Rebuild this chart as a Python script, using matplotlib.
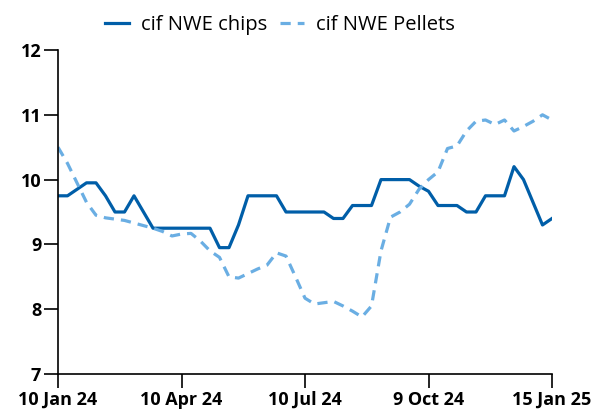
import matplotlib
matplotlib.use("Agg")
import matplotlib.pyplot as plt
import numpy as np

plt.rcParams['font.family'] = ['Open Sans', 'DejaVu Sans']

tick_labels = ["10 Jan 24", "10 Apr 24", "10 Jul 24", "9 Oct 24", "15 Jan 25"]
tick_positions = [0, 13, 26, 39, 52]

chips = [9.75, 9.75, 9.85, 9.95, 9.95, 9.75, 9.5, 9.5, 9.75, 9.5,
         9.25, 9.25, 9.25, 9.25, 9.25, 9.25, 9.25, 8.95, 8.95, 9.3,
         9.75, 9.75, 9.75, 9.75, 9.5, 9.5, 9.5, 9.5, 9.5, 9.4,
         9.4, 9.6, 9.6, 9.6, 10.0, 10.0, 10.0, 10.0, 9.9, 9.82,
         9.6, 9.6, 9.6, 9.5, 9.5, 9.75, 9.75, 9.75, 10.2, 10.0,
         9.65, 9.3, 9.4]

pellets = [10.5, 10.25, 9.95, 9.65, 9.45, 9.41, 9.39, 9.37, 9.33, 9.29,
           9.25, 9.2, 9.13, 9.16, 9.17, 9.05, 8.9, 8.8, 8.5, 8.48,
           8.55, 8.62, 8.68, 8.87, 8.82, 8.5, 8.17, 8.08, 8.1, 8.12,
           8.05, 7.97, 7.88, 8.05, 8.9, 9.42, 9.5, 9.62, 9.85, 10.0,
           10.12, 10.48, 10.52, 10.75, 10.9, 10.92, 10.85, 10.92, 10.75, 10.82,
           10.9, 11.0, 10.92]

fig = plt.figure(figsize=(6.03, 4.15), dpi=100)
ax = fig.add_axes([58/603, 41/415, 494/603, 324/415])

x = np.arange(len(chips))
ax.plot(x, chips, color='#005EA8', lw=2.3, label='cif NWE chips')
ax.plot(x, pellets, color='#6AAEE3', lw=2.3, ls=(0, (3.2, 2.2)), label='cif NWE Pellets')

ax.set_xlim(0, 52)
ax.set_ylim(7, 12)
ax.set_yticks([7, 8, 9, 10, 11, 12])
ax.set_xticks(tick_positions)
ax.set_xticklabels(tick_labels)
for s in ['top', 'right']:
    ax.spines[s].set_visible(False)
for s in ['left', 'bottom']:
    ax.spines[s].set_linewidth(1.2)
ax.tick_params(axis='both', length=10, width=1.2, labelsize=13, pad=2)
for lab in ax.get_xticklabels() + ax.get_yticklabels():
    lab.set_fontweight('bold')

ax.legend(loc='center', bbox_to_anchor=(0.449, 1.077), ncol=2, frameon=False,
          fontsize=14.5, handlelength=1.2, columnspacing=0.6, handletextpad=0.6,
          borderaxespad=0, borderpad=0)

fig.savefig('out.png', dpi=100)
